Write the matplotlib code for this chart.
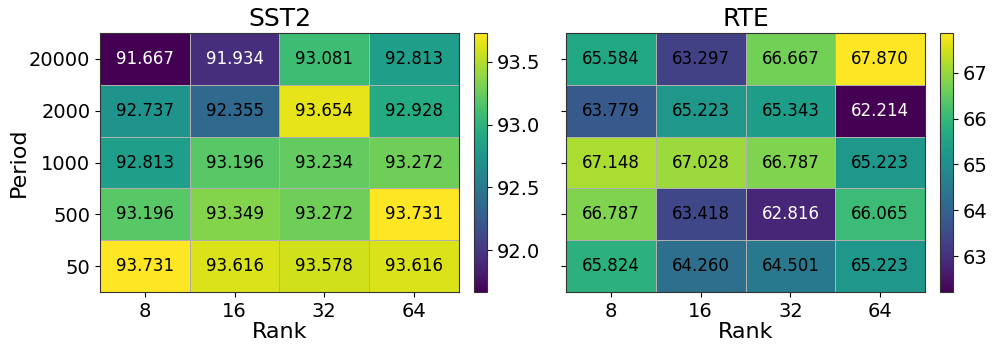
import matplotlib
matplotlib.use("Agg")
import matplotlib.pyplot as plt
import numpy as np

ranks = ["8", "16", "32", "64"]
periods = ["20000", "2000", "1000", "500", "50"]

sst2 = [
    [91.667, 91.934, 93.081, 92.813],
    [92.737, 92.355, 93.654, 92.928],
    [92.813, 93.196, 93.234, 93.272],
    [93.196, 93.349, 93.272, 93.731],
    [93.731, 93.616, 93.578, 93.616],
]
rte = [
    [65.584, 63.297, 66.667, 67.870],
    [63.779, 65.223, 65.343, 62.214],
    [67.148, 67.028, 66.787, 65.223],
    [66.787, 63.418, 62.816, 66.065],
    [65.824, 64.260, 64.501, 65.223],
]

fig = plt.figure(figsize=(9.96, 3.53), dpi=100)
ax_pos = [[0.1004, 0.1728, 0.3604, 0.7337], [0.5683, 0.1728, 0.3604, 0.7337]]
cb_pos = [[0.4759, 0.1728, 0.0131, 0.7337], [0.9438, 0.1728, 0.0131, 0.7337]]

for i, (data, title) in enumerate([(sst2, "SST2"), (rte, "RTE")]):
    arr = np.array(data)
    ax = fig.add_axes(ax_pos[i])
    cax = fig.add_axes(cb_pos[i])
    vmin, vmax = arr.min(), arr.max()
    mesh = ax.pcolormesh(arr, cmap="viridis", vmin=vmin, vmax=vmax,
                         edgecolors="#b0b0b0", linewidth=0.7)
    ax.set_xlim(0, arr.shape[1])
    ax.set_ylim(arr.shape[0], 0)
    for r in range(arr.shape[0]):
        for c in range(arr.shape[1]):
            v = arr[r, c]
            norm = (v - vmin) / (vmax - vmin)
            ax.text(c + 0.5, r + 0.5, f"{v:.3f}", ha="center", va="center",
                    fontsize=12, color="white" if norm < 0.16 else "black")
    ax.set_xticks(np.arange(arr.shape[1]) + 0.5)
    ax.set_xticklabels(ranks, fontsize=14)
    ax.set_yticks(np.arange(arr.shape[0]) + 0.5)
    if i == 0:
        ax.set_yticklabels(periods, fontsize=14)
        ax.set_ylabel("Period", fontsize=16, labelpad=0)
    else:
        ax.set_yticklabels([])
    ax.set_xlabel("Rank", fontsize=16, labelpad=1)
    ax.set_title(title, fontsize=18, pad=5)
    for s in ax.spines.values():
        s.set_color("#333333")
    cb = fig.colorbar(mesh, cax=cax)
    cb.ax.tick_params(labelsize=14)
    cb.outline.set_edgecolor("#333333")

fig.savefig("out.png", dpi=100)
